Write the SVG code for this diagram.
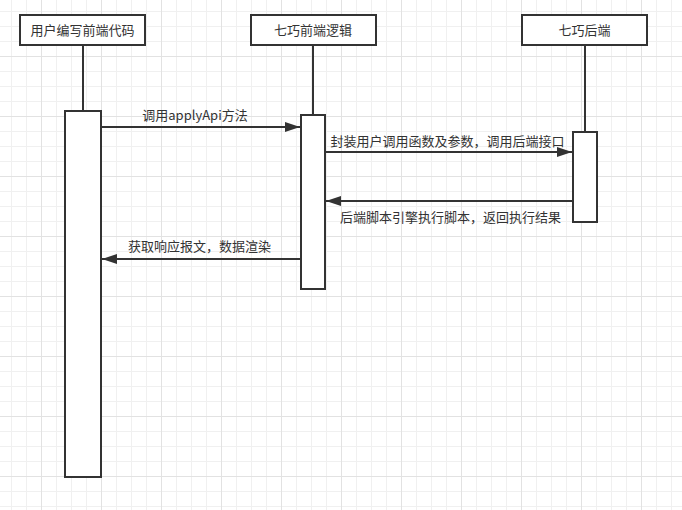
<svg xmlns="http://www.w3.org/2000/svg" width="682" height="510" viewBox="0 0 682 510">
  <defs>
    <pattern id="minor" width="15" height="15" patternUnits="userSpaceOnUse" x="11" y="11">
      <path d="M0 0.5H15M0.5 0V15" stroke="#f0f0f0" stroke-width="1" fill="none"/>
    </pattern>
    <pattern id="major" width="60" height="60" patternUnits="userSpaceOnUse" x="41" y="56">
      <path d="M0 0.5H60M0.5 0V60" stroke="#e2e2e2" stroke-width="1" fill="none"/>
    </pattern>
    <marker id="arr" markerUnits="userSpaceOnUse" markerWidth="16" markerHeight="12" refX="15" refY="5" orient="auto" viewBox="0 0 16 10">
      <path d="M0 0L15 5L0 10Z" fill="#333333"/>
    </marker>
    <style>
      .box { fill: #ffffff; stroke: #333333; stroke-width: 2; }
      .life { stroke: #333333; stroke-width: 2; fill: none; }
      .msg { stroke: #333333; stroke-width: 2; fill: none; marker-end: url(#arr); }
      text { font-family: "Noto Sans CJK SC", "Noto Sans", sans-serif; font-size: 13px; fill: #333333; }
      .c { text-anchor: middle; }
    </style>
  </defs>
  <rect width="682" height="510" fill="#ffffff"/>
  <rect width="682" height="510" fill="url(#minor)"/>
  <rect width="682" height="510" fill="url(#major)"/>

  <g id="lifelines">
    <path class="life" d="M83 45V111"/>
    <path class="life" d="M313 45V115"/>
    <path class="life" d="M585 45V132"/>
  </g>

  <g id="node-user">
    <rect class="box" x="20" y="15" width="125" height="30"/>
    <text class="c" x="82.5" y="34.5">用户编写前端代码</text>
  </g>
  <g id="node-front">
    <rect class="box" x="251" y="15" width="125" height="30"/>
    <text class="c" x="313" y="34.5">七巧前端逻辑</text>
  </g>
  <g id="node-back">
    <rect class="box" x="522" y="15" width="125" height="30"/>
    <text class="c" x="584.5" y="34.5">七巧后端</text>
  </g>

  <g id="bar-user">
    <rect class="box" x="65" y="111" width="36" height="366"/>
  </g>
  <g id="bar-front">
    <rect class="box" x="301" y="115" width="24" height="174"/>
  </g>
  <g id="bar-back">
    <rect class="box" x="573" y="132" width="24" height="90"/>
  </g>

  <g id="connectors">
    <path class="msg" d="M101 127H300"/>
    <path class="msg" d="M325 152H572"/>
    <path class="msg" d="M573 201H326"/>
    <path class="msg" d="M301 259H102"/>
  </g>

  <g id="labels">
    <text class="c" x="195" y="119.5">调用applyApi方法</text>
    <text class="c" x="447.5" y="145.5">封装用户调用函数及参数，调用后端接口</text>
    <text class="c" x="450.5" y="221.5">后端脚本引擎执行脚本，返回执行结果</text>
    <text class="c" x="199.5" y="250.5">获取响应报文，数据渲染</text>
  </g>
</svg>
